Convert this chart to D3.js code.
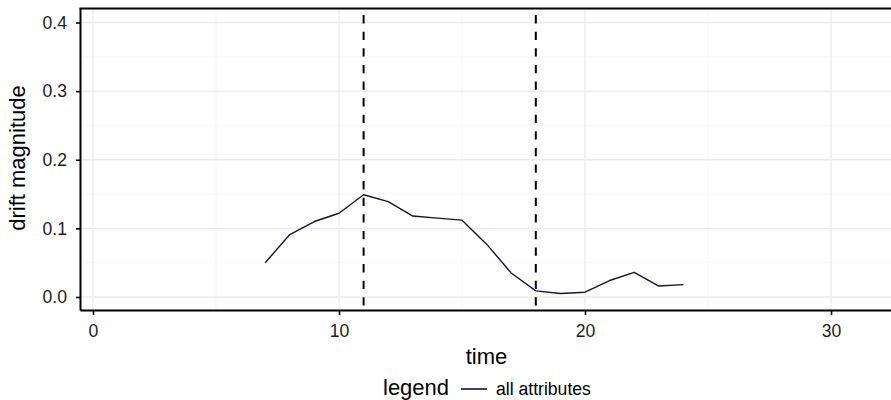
<!DOCTYPE html>
<html>
<head>
  <title>Drift magnitude</title>
  <script src="https://cdn.jsdelivr.net/npm/d3@7/dist/d3.min.js"></script>
  <style>
    body { margin: 0; background: #fff; }
    text { font-family: "Liberation Sans", Arial, sans-serif; }
  </style>
</head>
<body>
  <div id="chart"></div>
  <script>
    // data
    const times = [7, 8, 9, 10, 11, 12, 13, 14, 15, 16, 17, 18, 19, 20, 21, 22, 23, 24];
    const drift = [0.050, 0.091, 0.110, 0.122, 0.149, 0.139, 0.118, 0.115, 0.112, 0.077,
                   0.035, 0.009, 0.005, 0.007, 0.024, 0.036, 0.016, 0.018];
    const changePoints = [11, 18];
    const xTicks = [0, 10, 20, 30];
    const xMinor = [5, 15, 25];
    const yTicks = [0, 0.1, 0.2, 0.3, 0.4];
    const yMinor = [0.05, 0.15, 0.25, 0.35];
    const legendLabel = 'all attributes';

    const width = 891, height = 400;
    const panelLeft = 80.5, panelTop = 8.5, panelBottom = 310.5;
    const lineColor = '#15133f';

    const svg = d3.select('#chart').append('svg')
      .attr('width', width)
      .attr('height', height);

    const x = d3.scaleLinear().domain([0, 30]).range([93, 831]);
    const y = d3.scaleLinear().domain([0, 0.4]).range([297, 22.5]);

    // grid
    const grid = svg.append('g');
    grid.selectAll('.ymin').data(yMinor).join('line')
      .attr('x1', panelLeft).attr('x2', width)
      .attr('y1', d => y(d)).attr('y2', d => y(d))
      .attr('stroke', '#f2f2f2').attr('stroke-width', 0.7);
    grid.selectAll('.xmin').data(xMinor).join('line')
      .attr('y1', panelTop).attr('y2', panelBottom)
      .attr('x1', d => x(d)).attr('x2', d => x(d))
      .attr('stroke', '#f2f2f2').attr('stroke-width', 0.7);
    grid.selectAll('.ymaj').data(yTicks).join('line')
      .attr('x1', panelLeft).attr('x2', width)
      .attr('y1', d => y(d)).attr('y2', d => y(d))
      .attr('stroke', '#ebebeb').attr('stroke-width', 1.3);
    grid.selectAll('.xmaj').data(xTicks).join('line')
      .attr('y1', panelTop).attr('y2', panelBottom)
      .attr('x1', d => x(d)).attr('x2', d => x(d))
      .attr('stroke', '#ebebeb').attr('stroke-width', 1.3);

    // series
    const line = d3.line().x((d, i) => x(times[i])).y(d => y(d));
    svg.append('path')
      .datum(drift)
      .attr('d', line)
      .attr('fill', 'none')
      .attr('stroke', lineColor)
      .attr('stroke-width', 1.4)
      .attr('stroke-linejoin', 'round');

    // change points
    svg.selectAll('.vline').data(changePoints).join('line')
      .attr('x1', d => x(d)).attr('x2', d => x(d))
      .attr('y1', panelTop).attr('y2', panelBottom)
      .attr('stroke', '#000')
      .attr('stroke-width', 2)
      .attr('stroke-dasharray', '8.3,8.3')
      .attr('stroke-dashoffset', 10);

    // axes
    const yAxis = d3.axisLeft(y).tickValues(yTicks).tickFormat(d3.format('.1f')).tickSize(4.5).tickPadding(9);
    const xAxis = d3.axisBottom(x).tickValues(xTicks).tickSize(4.5).tickPadding(9.8);

    const styleAxis = g => {
      g.selectAll('.tick line').attr('stroke-width', 1.6);
      g.selectAll('text').attr('font-size', 17.6).attr('fill', '#222')
        .attr('font-family', '"Liberation Sans", Arial, sans-serif');
    };

    svg.append('g')
      .attr('transform', `translate(${panelLeft},0)`)
      .call(yAxis)
      .call(g => g.select('.domain').attr('d', `M0,${panelTop}V${panelBottom}`).attr('stroke-width', 2))
      .call(styleAxis);

    svg.append('g')
      .attr('transform', `translate(0,${panelBottom})`)
      .call(xAxis)
      .call(g => g.select('.domain').attr('d', `M${panelLeft},0H${width}`).attr('stroke-width', 2))
      .call(styleAxis);

    // top border
    svg.append('line')
      .attr('x1', panelLeft - 1).attr('x2', width)
      .attr('y1', panelTop).attr('y2', panelTop)
      .attr('stroke', '#000').attr('stroke-width', 2);

    // titles
    svg.append('text')
      .attr('x', 486.5).attr('y', 364)
      .attr('text-anchor', 'middle')
      .attr('font-size', 22)
      .text('time');

    svg.append('text')
      .attr('transform', 'translate(25,158) rotate(-90)')
      .attr('text-anchor', 'middle')
      .attr('font-size', 22)
      .text('drift magnitude');

    // legend
    const lg = svg.append('g');
    lg.append('text').attr('x', 383).attr('y', 395).attr('font-size', 22).text('legend');
    lg.append('line')
      .attr('x1', 461).attr('x2', 487)
      .attr('y1', 389).attr('y2', 389)
      .attr('stroke', lineColor).attr('stroke-width', 1.6);
    lg.append('text').attr('x', 496).attr('y', 395).attr('font-size', 17.6).text(legendLabel);
  </script>
</body>
</html>
